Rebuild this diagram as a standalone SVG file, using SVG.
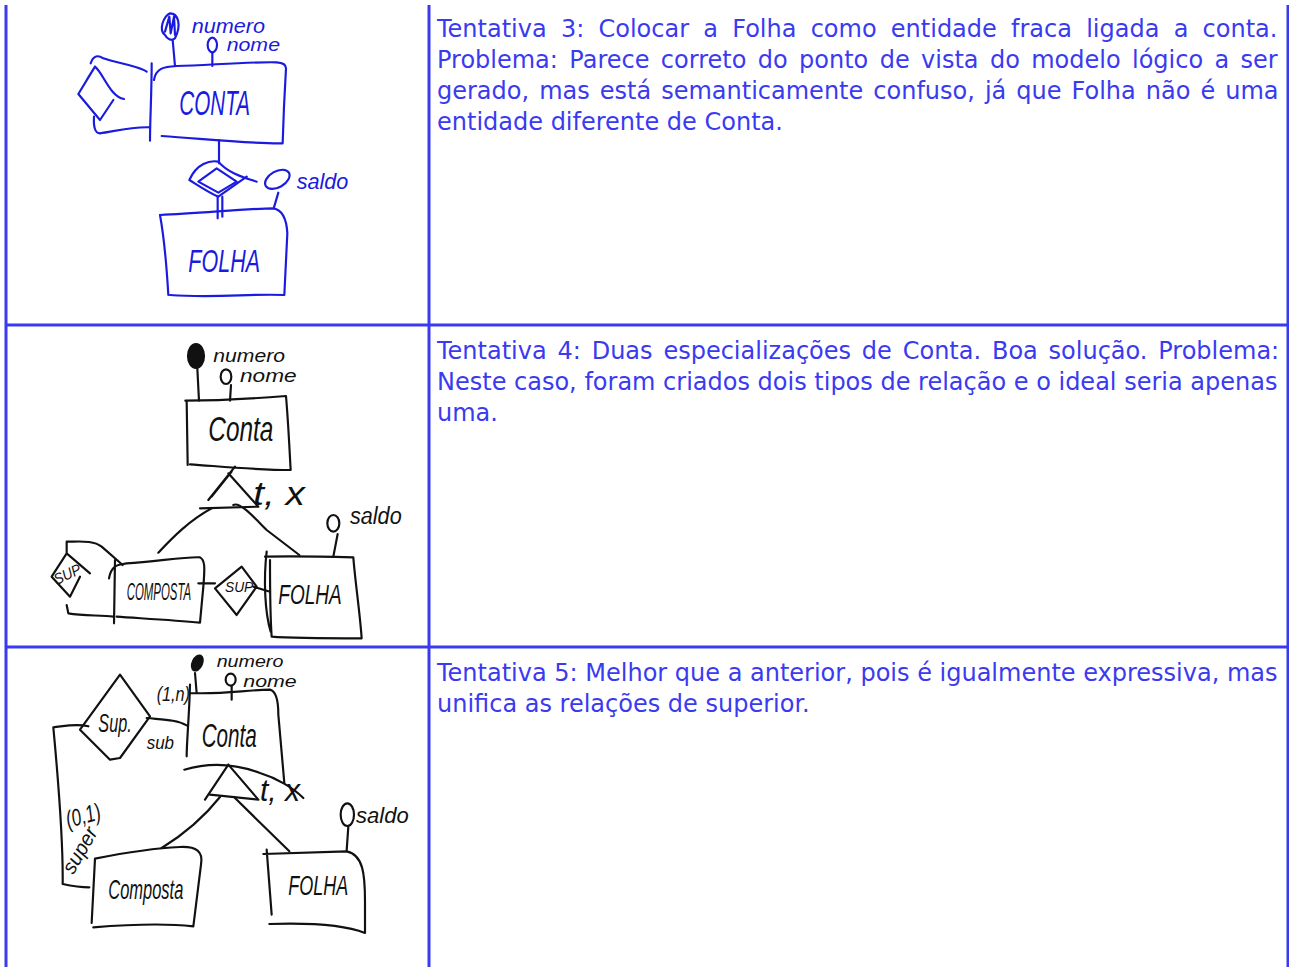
<svg xmlns="http://www.w3.org/2000/svg" width="1289" height="967" viewBox="0 0 1289 967">
<style>
.b{fill:none;stroke:#3a3af0;stroke-width:3}
.t{font-family:"DejaVu Sans",sans-serif;font-size:24px;fill:#3a3af0}
.s path,.s ellipse{fill:none;stroke-width:6.5;stroke-linecap:round;stroke-linejoin:round}
.s text{font-family:"Liberation Sans",sans-serif;font-style:italic;stroke:none}
.blue path,.blue ellipse{stroke:#1a1ae0}
.blue text{fill:#1a1ae0}
.blk path,.blk ellipse{stroke:#111}
.blk text{fill:#111}
.s ellipse.f{fill:currentColor}
.blue{color:#1a1ae0}
.blk{color:#111}
</style>
<g id="table">
<path class="b" d="M6,5V967M429,5V967M1288,5V967M6,325H1288M6,647H1288"/>
</g>
<g id="text">
<text class="t" x="437" y="37" word-spacing="6.6">Tentativa 3: Colocar a Folha como entidade fraca ligada a conta.</text>
<text class="t" x="437" y="68" word-spacing="3.75">Problema: Parece correto do ponto de vista do modelo lógico a ser</text>
<text class="t" x="437" y="99" word-spacing="2.4">gerado, mas está semanticamente confuso, já que Folha não é uma</text>
<text class="t" x="437" y="130">entidade diferente de Conta.</text>
<text class="t" x="437" y="359" word-spacing="3.2">Tentativa 4: Duas especializações de Conta. Boa solução. Problema:</text>
<text class="t" x="437" y="390">Neste caso, foram criados dois tipos de relação e o ideal seria apenas</text>
<text class="t" x="437" y="421">uma.</text>
<text class="t" x="437" y="681">Tentativa 5: Melhor que a anterior, pois é igualmente expressiva, mas</text>
<text class="t" x="437" y="712">unifica as relações de superior.</text>
</g>
<g id="sketch3" class="s blue" transform="translate(50,0) scale(.33333)">
<g id="s3-conta">
<path d="M312,240C318,205 340,200 380,198C480,195 600,185 680,187C700,188 708,195 708,205L702,320L698,430C620,432 500,420 335,408"/>
<path d="M305,190C305,280 300,360 300,422"/>
<text x="388" y="345" font-size="105" textLength="212" lengthAdjust="spacingAndGlyphs">CONTA</text>
</g>
<g id="s3-rel">
<path d="M122,190C130,165 145,165 160,175C200,190 260,195 290,215"/>
<path d="M135,200L85,282L150,360L190,300M135,200C160,220 180,290 222,297M110,240L135,200"/>
<path d="M132,350C130,380 135,400 150,400C190,395 240,380 300,382"/>
</g>
<g id="s3-numero">
<path d="M345,105C325,90 340,50 360,40C385,40 395,75 375,115C365,125 350,115 345,105M345,95L358,50L362,100L372,50L375,105"/>
<path d="M368,120L375,198"/>
<text x="425" y="98" font-size="58" textLength="220" lengthAdjust="spacingAndGlyphs">numero</text>
</g>
<g id="s3-nome">
<ellipse cx="487" cy="135" rx="14" ry="22"/>
<path d="M487,160L487,198"/>
<text x="530" y="153" font-size="56" textLength="160" lengthAdjust="spacingAndGlyphs">nome</text>
</g>
<g id="s3-fraca">
<path d="M507,420L507,490"/>
<path d="M418,540C440,490 480,480 505,485C530,515 570,530 620,545M418,540C450,560 480,580 505,590L590,530"/>
<path d="M445,545L500,505L560,545L505,578ZM503,590L503,655M517,590L517,650"/>
</g>
<g id="s3-saldo">
<ellipse cx="682" cy="538" rx="40" ry="24" transform="rotate(-30 682 538)"/>
<path d="M685,578L672,622"/>
<text x="740" y="568" font-size="68" textLength="155" lengthAdjust="spacingAndGlyphs">saldo</text>
</g>
<g id="s3-folha">
<path d="M330,645C450,640 600,625 670,625C700,630 710,660 712,700L703,885C600,880 500,895 360,885"/>
<path d="M330,645C340,700 350,800 355,885"/>
<text x="415" y="815" font-size="95" textLength="215" lengthAdjust="spacingAndGlyphs">FOLHA</text>
</g>
</g>
<g id="sketch4" class="s blk" transform="translate(40,330) scale(.33333)">
<g id="s4-conta">
<path d="M436,212C520,212 650,205 738,198C745,280 748,350 752,420C650,420 550,410 450,403M440,212L443,405"/>
<text x="505" y="332" font-size="105" textLength="195" lengthAdjust="spacingAndGlyphs">Conta</text>
</g>
<g id="s4-numero">
<ellipse class="f" cx="468" cy="78" rx="24" ry="36"/>
<path d="M472,115L477,212"/>
<text x="520" y="97" font-size="56" textLength="215" lengthAdjust="spacingAndGlyphs">numero</text>
</g>
<g id="s4-nome">
<ellipse cx="558" cy="140" rx="16" ry="22"/>
<path d="M573,165L570,212"/>
<text x="600" y="157" font-size="56" textLength="170" lengthAdjust="spacingAndGlyphs">nome</text>
</g>
<g id="s4-spec">
<path d="M585,410L505,510M575,425L515,500M565,430L655,530L480,535"/>
<text x="640" y="525" font-size="100" textLength="155" lengthAdjust="spacingAndGlyphs">t, x</text>
</g>
<g id="s4-saldo">
<ellipse cx="880" cy="580" rx="18" ry="25"/>
<path d="M893,612L880,680"/>
<text x="930" y="582" font-size="72" textLength="155" lengthAdjust="spacingAndGlyphs">saldo</text>
</g>
<g id="s4-composta">
<path d="M207,745C215,700 240,705 260,700C350,695 430,680 480,682C495,690 495,710 490,770L480,878C400,870 300,865 230,860M225,690L222,880"/>
<text transform="translate(260,810) scale(.49,1)" font-size="70">COMPOSTA</text>
</g>
<g id="s4-folha">
<path d="M675,680C760,678 860,680 940,682C945,750 960,850 965,925C850,925 760,925 695,920M680,665C670,750 675,850 692,905M690,690C690,760 690,850 695,920"/>
<text x="715" y="822" font-size="85" textLength="190" lengthAdjust="spacingAndGlyphs">FOLHA</text>
</g>
<g id="s4-sup1">
<path d="M80,635C120,635 160,630 185,650L248,705M35,740L80,670L150,730M35,740L90,800L120,740M80,825L85,850C130,858 180,855 220,860M80,635L80,670"/>
<text x="50" y="765" font-size="46" textLength="85" lengthAdjust="spacingAndGlyphs" transform="rotate(-25 50 765)">SUP</text>
</g>
<g id="s4-sup2">
<path d="M525,775L605,710L650,770L590,855ZM475,760L525,760M640,770L690,785"/>
<text x="555" y="785" font-size="46" textLength="85" lengthAdjust="spacingAndGlyphs">SUP</text>
</g>
</g>
<g id="connectors4" class="s blk" transform="translate(40,330) scale(.33333)">
<path d="M515,535C450,570 400,620 355,668M580,525C600,515 640,560 680,600L778,675"/>
</g>
<g id="sketch5" class="s blk" transform="translate(40,648) scale(.33333)">
<g id="s5-conta">
<path d="M450,135C550,140 620,125 690,125C710,130 715,160 715,200L733,405M450,110C448,200 440,280 440,325M433,365C500,345 580,345 660,375C710,390 760,420 790,450"/>
<text x="485" y="298" font-size="100" textLength="165" lengthAdjust="spacingAndGlyphs">Conta</text>
</g>
<g id="s5-numero">
<ellipse class="f" cx="472" cy="45" rx="14" ry="24" transform="rotate(25 472 45)"/>
<path d="M465,75L470,135"/>
<text x="530" y="58" font-size="48" textLength="200" lengthAdjust="spacingAndGlyphs">numero</text>
</g>
<g id="s5-nome">
<ellipse cx="572" cy="95" rx="15" ry="18"/>
<path d="M575,115L575,155"/>
<text x="610" y="118" font-size="52" textLength="160" lengthAdjust="spacingAndGlyphs">nome</text>
</g>
<g id="s5-sup">
<path d="M240,80L120,245L210,335L240,330L330,205Z"/>
<text x="175" y="252" font-size="75" textLength="100" lengthAdjust="spacingAndGlyphs">Sup.</text>
<text x="350" y="160" font-size="62" textLength="100" lengthAdjust="spacingAndGlyphs">(1,n)</text>
<text x="320" y="303" font-size="55" textLength="82" lengthAdjust="spacingAndGlyphs">sub</text>
<text x="85" y="540" font-size="72" textLength="105" lengthAdjust="spacingAndGlyphs" transform="rotate(-15 85 540)">(0,1)</text>
<text x="100" y="682" font-size="62" textLength="150" lengthAdjust="spacingAndGlyphs" transform="rotate(-60 100 682)">super</text>
</g>
<g id="s5-spec">
<path d="M565,350L495,455M565,350L655,455L510,440"/>
<text x="660" y="458" font-size="95" textLength="120" lengthAdjust="spacingAndGlyphs">t, x</text>
</g>
<g id="s5-saldo">
<ellipse cx="922" cy="500" rx="20" ry="34"/>
<path d="M925,535L920,608"/>
<text x="948" y="525" font-size="68" textLength="158" lengthAdjust="spacingAndGlyphs">saldo</text>
</g>
<g id="s5-composta">
<path d="M165,632C250,615 350,600 420,597C470,595 490,610 483,650L460,835C370,825 260,830 160,838M165,632L155,825"/>
<text x="205" y="752" font-size="82" textLength="225" lengthAdjust="spacingAndGlyphs">Composta</text>
</g>
<g id="s5-folha">
<path d="M670,618L920,610C970,620 975,680 975,760L975,855C900,825 780,825 688,828M680,605L695,800"/>
<text x="745" y="742" font-size="82" textLength="180" lengthAdjust="spacingAndGlyphs">FOLHA</text>
</g>
</g>
<g id="connectors5" class="s blk" transform="translate(40,648) scale(.33333)">
<path d="M320,210C370,215 410,215 440,232M145,235C110,225 70,235 40,238C50,350 70,550 68,708C100,715 125,718 148,718M540,447C490,510 430,560 365,600M585,450L748,610"/>
</g>
</svg>
